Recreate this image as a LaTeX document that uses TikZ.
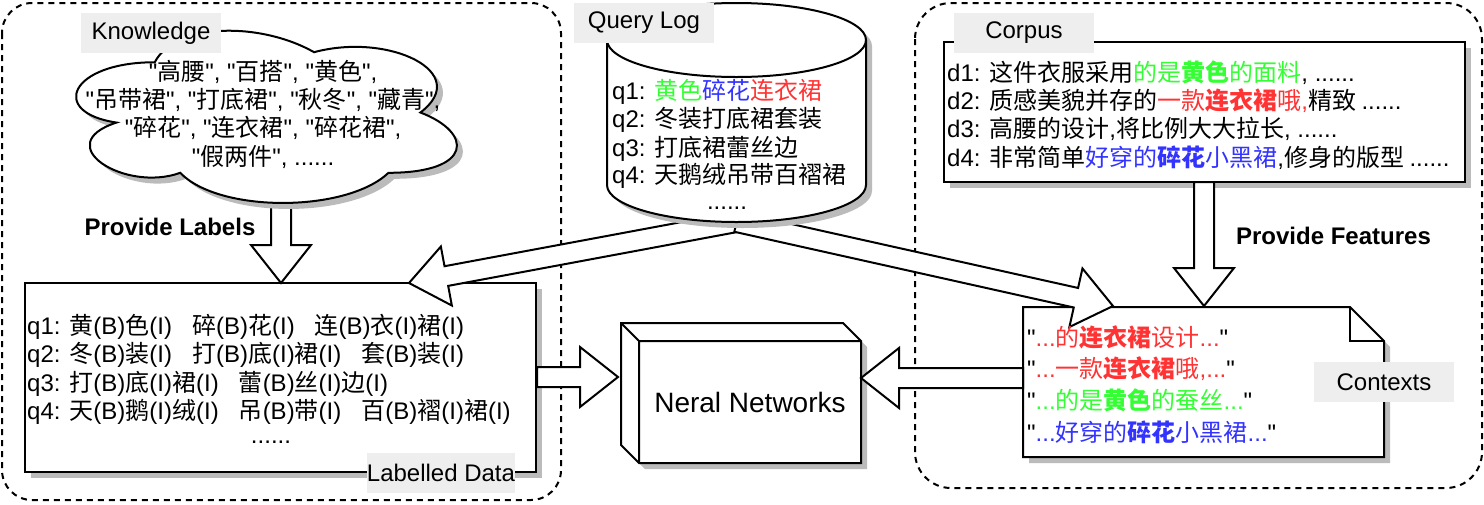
\documentclass[tikz,border=0pt]{standalone}
\usepackage{fontspec}
\setmainfont{Liberation Sans}[Ligatures=TeXOff]
\newfontfamily\cjk{Noto Sans CJK SC}
\usetikzlibrary{calc}
\definecolor{cgreen}{HTML}{33FF33}
\definecolor{cred}{HTML}{FF3333}
\definecolor{cblue}{HTML}{3333FF}
\definecolor{lblgray}{HTML}{EEEEEE}
\definecolor{shgray}{HTML}{BBBBBB}
% automatic switch between Latin and CJK fonts
\XeTeXinterchartokenstate=1
\newXeTeXintercharclass\CJKcls
\count255="4E00
\loop
  \XeTeXcharclass\count255=\CJKcls
  \advance\count255 by 1
\ifnum\count255<"A000 \repeat
\XeTeXinterchartoks 0 \CJKcls={\cjk}
\XeTeXinterchartoks 4095 \CJKcls={\cjk}
\XeTeXinterchartoks \CJKcls \CJKcls={\cjk}
\XeTeXinterchartoks \CJKcls 0={\rmfamily}
\XeTeXinterchartoks 4095 0={\rmfamily}
\newcommand\gp{\hspace{20pt}}
\newcommand\blkarrow[3]{%
  \coordinate (#1-hb) at ($(#3)!38pt!(#2)$);
  \draw[arrowbody] ($(#2)!10pt!90:(#3)$) -- ($(#1-hb)!10pt!90:(#3)$) -- ($(#1-hb)!30pt!90:(#3)$) -- (#3) -- ($(#1-hb)!30pt!-90:(#3)$) -- ($(#1-hb)!10pt!-90:(#3)$) -- ($(#2)!10pt!-90:(#3)$) -- cycle;
}
\newcommand\cloudpath{(154.75,62.25)
  .. controls (69.75,62.25) and (48.5,112.5) .. (116.5,122.55)
  .. controls (48.5,144.66) and (125,192.9) .. (180.25,172.8)
  .. controls (218.5,213) and (346,213) .. (388.5,172.8)
  .. controls (473.5,172.8) and (473.5,132.6) .. (420.4,112.5)
  .. controls (473.5,72.3) and (388.5,32.1) .. (314.1,52.2)
  .. controls (261,22.05) and (176,22.05) .. (154.75,62.25) -- cycle}
\newcommand\cylpath{(607,40) -- (607,185) arc[start angle=180, end angle=360, x radius=129.5pt, y radius=37pt] -- (866,40) arc[start angle=0, end angle=180, x radius=129.5pt, y radius=37pt] -- cycle}
\tikzset{
  shp/.style={draw=black, line width=2pt, fill=white},
  shdw/.style={fill=shgray, draw=none},
  cont/.style={draw=black, line width=2pt, dash pattern=on 6pt off 5pt},
  lbl/.style={fill=lblgray, inner sep=0pt, minimum width=140pt, minimum height=40pt, font=\fontsize{24}{28}\selectfont},
  arrowbody/.style={draw=black, line width=2pt, fill=white, line join=miter},
  txt/.style={inner sep=0pt, anchor=base west, font=\fontsize{24}{28}\selectfont},
  ctxt/.style={inner sep=0pt, anchor=base, font=\fontsize{24}{28}\selectfont},
  boldlbl/.style={inner sep=0pt, font=\bfseries\fontsize{24}{28}\selectfont},
}
\begin{document}
\begin{tikzpicture}[x=1pt,y=-1pt]
\useasboundingbox (0,0) rectangle (1484,504);
% containers
\draw[cont, rounded corners=30pt] (2,3) rectangle (561,500);
\draw[cont, rounded corners=36pt] (915,3) rectangle (1482,488);
% shadows of the boxes
\fill[shdw] (31,289) rectangle (542,478);
\fill[shdw] (950,48) rectangle (1471,188);
\fill[shdw] (1029,313) -- (1356,313) -- (1390,347) -- (1390,463) -- (1029,463) -- cycle;
\fill[shdw] (627,329) -- (849,329) -- (867,347) -- (867,469) -- (645,469) -- (627,451) -- cycle;
% boxes
\draw[shp] (25,283) rectangle (536,472);
\draw[shp] (944,42) rectangle (1465,182);
\draw[shp] (1023,307) -- (1350,307) -- (1384,341) -- (1384,457) -- (1023,457) -- cycle;
\draw[line width=2pt] (1350,307) -- (1350,341) -- (1384,341);
\draw[shp] (621,323) -- (843,323) -- (861,341) -- (861,463) -- (639,463) -- (621,445) -- cycle;
\draw[line width=2pt] (621,323) -- (639,341) -- (861,341) (639,341) -- (639,463);
% arrow end points
\coordinate (plS) at (281,200);
\coordinate (plE) at (281,283);
\coordinate (fkS) at (736.5,222);
\coordinate (flE) at (409,283);
\coordinate (frE) at (1113,306);
\coordinate (lnS) at (537,377);
\coordinate (lnE) at (618,377);
\coordinate (cnS) at (1023,378);
\coordinate (cnE) at (861,378);
\coordinate (pfS) at (1204,182);
\coordinate (pfE) at (1204,306);
\blkarrow{pl}{plS}{plE}
\blkarrow{fl}{fkS}{flE}
\blkarrow{fr}{fkS}{frE}
\blkarrow{ln}{lnS}{lnE}
\blkarrow{cn}{cnS}{cnE}
\blkarrow{pf}{pfS}{pfE}
% cloud and cylinder, with shadows
\begin{scope}[xshift=6pt, yshift=-6pt]
  \fill[shdw] \cloudpath;
  \fill[shdw] \cylpath;
\end{scope}
\draw[shp] \cloudpath;
\draw[shp] \cylpath;
\draw[line width=2pt] (607,40) arc[start angle=180, end angle=360, x radius=129.5pt, y radius=37pt];
% gray labels
\node[lbl] (knowledge) at (151,33) {Knowledge};
\node[lbl] (querylog) at (644,22.5) {Query Log};
\node[lbl] (corpus) at (1024,33) {Corpus};
\node[lbl] (labelled) at (441,473) {Labelled Data};
\node[lbl] (contexts) at (1384,382) {Contexts};
% bold captions
\node[boldlbl] (provlabels) at (170,227) {Provide Labels};
\node[boldlbl] (provfeat) at (1333.5,236) {Provide Features};
% cloud text
\node[ctxt] (k1) at (263,80.5) {"高腰", "百搭", "黄色",};
\node[ctxt] (k2) at (263,108.5) {"吊带裙", "打底裙", "秋冬", "藏青",};
\node[ctxt] (k3) at (263,136.5) {"碎花", "连衣裙", "碎花裙",};
\node[ctxt] (k4) at (263,165.5) {"假两件", ......};
% query log
\node[txt] (q1) at (612,99) {q1: {\color{cgreen}黄色}{\color{cblue}碎花}{\color{cred}连衣裙}};
\node[txt] (q2) at (612,127) {q2: 冬装打底裙套装};
\node[txt] (q3) at (612,156) {q3: 打底裙蕾丝边};
\node[txt] (q4) at (612,183) {q4: 天鹅绒吊带百褶裙};
\node[ctxt] (qd) at (727,209) {......};
% corpus
\node[txt] (d1) at (947,81) {d1: 这件衣服采用{\color{cgreen}的是{\bfseries 黄色}的面料}, ......};
\node[txt] (d2) at (947,109) {d2: 质感美貌并存的{\color{cred}一款{\bfseries 连衣裙}哦,}精致 ......};
\node[txt] (d3) at (947,137) {d3: 高腰的设计,将比例大大拉长, ......};
\node[txt] (d4) at (947,166) {d4: 非常简单{\color{cblue}好穿的{\bfseries 碎花}小黑裙},修身的版型 ......};
% labelled data
\node[txt] (l1) at (27,334) {q1: 黄(B)色(I)\gp 碎(B)花(I)\gp 连(B)衣(I)裙(I)};
\node[txt] (l2) at (27,362) {q2: 冬(B)装(I)\gp 打(B)底(I)裙(I)\gp 套(B)装(I)};
\node[txt] (l3) at (27,391) {q3: 打(B)底(I)裙(I)\gp 蕾(B)丝(I)边(I)};
\node[txt] (l4) at (27,419) {q4: 天(B)鹅(I)绒(I)\gp 吊(B)带(I)\gp 百(B)褶(I)裙(I)};
\node[ctxt] (ld) at (271,443) {......};
% contexts
\node[txt] (c1) at (1027,346) {"{\color{cred}...的{\bfseries 连衣裙}设计...}"};
\node[txt] (c2) at (1027,377) {"{\color{cred}...一款{\bfseries 连衣裙}哦,...}"};
\node[txt] (c3) at (1027,409) {"{\color{cgreen}...的是{\bfseries 黄色}的蚕丝...}"};
\node[txt] (c4) at (1027,441) {"{\color{cblue}...好穿的{\bfseries 碎花}小黑裙...}"};
% neural networks
\node[inner sep=0pt, font=\fontsize{28}{32}\selectfont] (nn) at (750,402) {Neral Networks};
\end{tikzpicture}
\end{document}
